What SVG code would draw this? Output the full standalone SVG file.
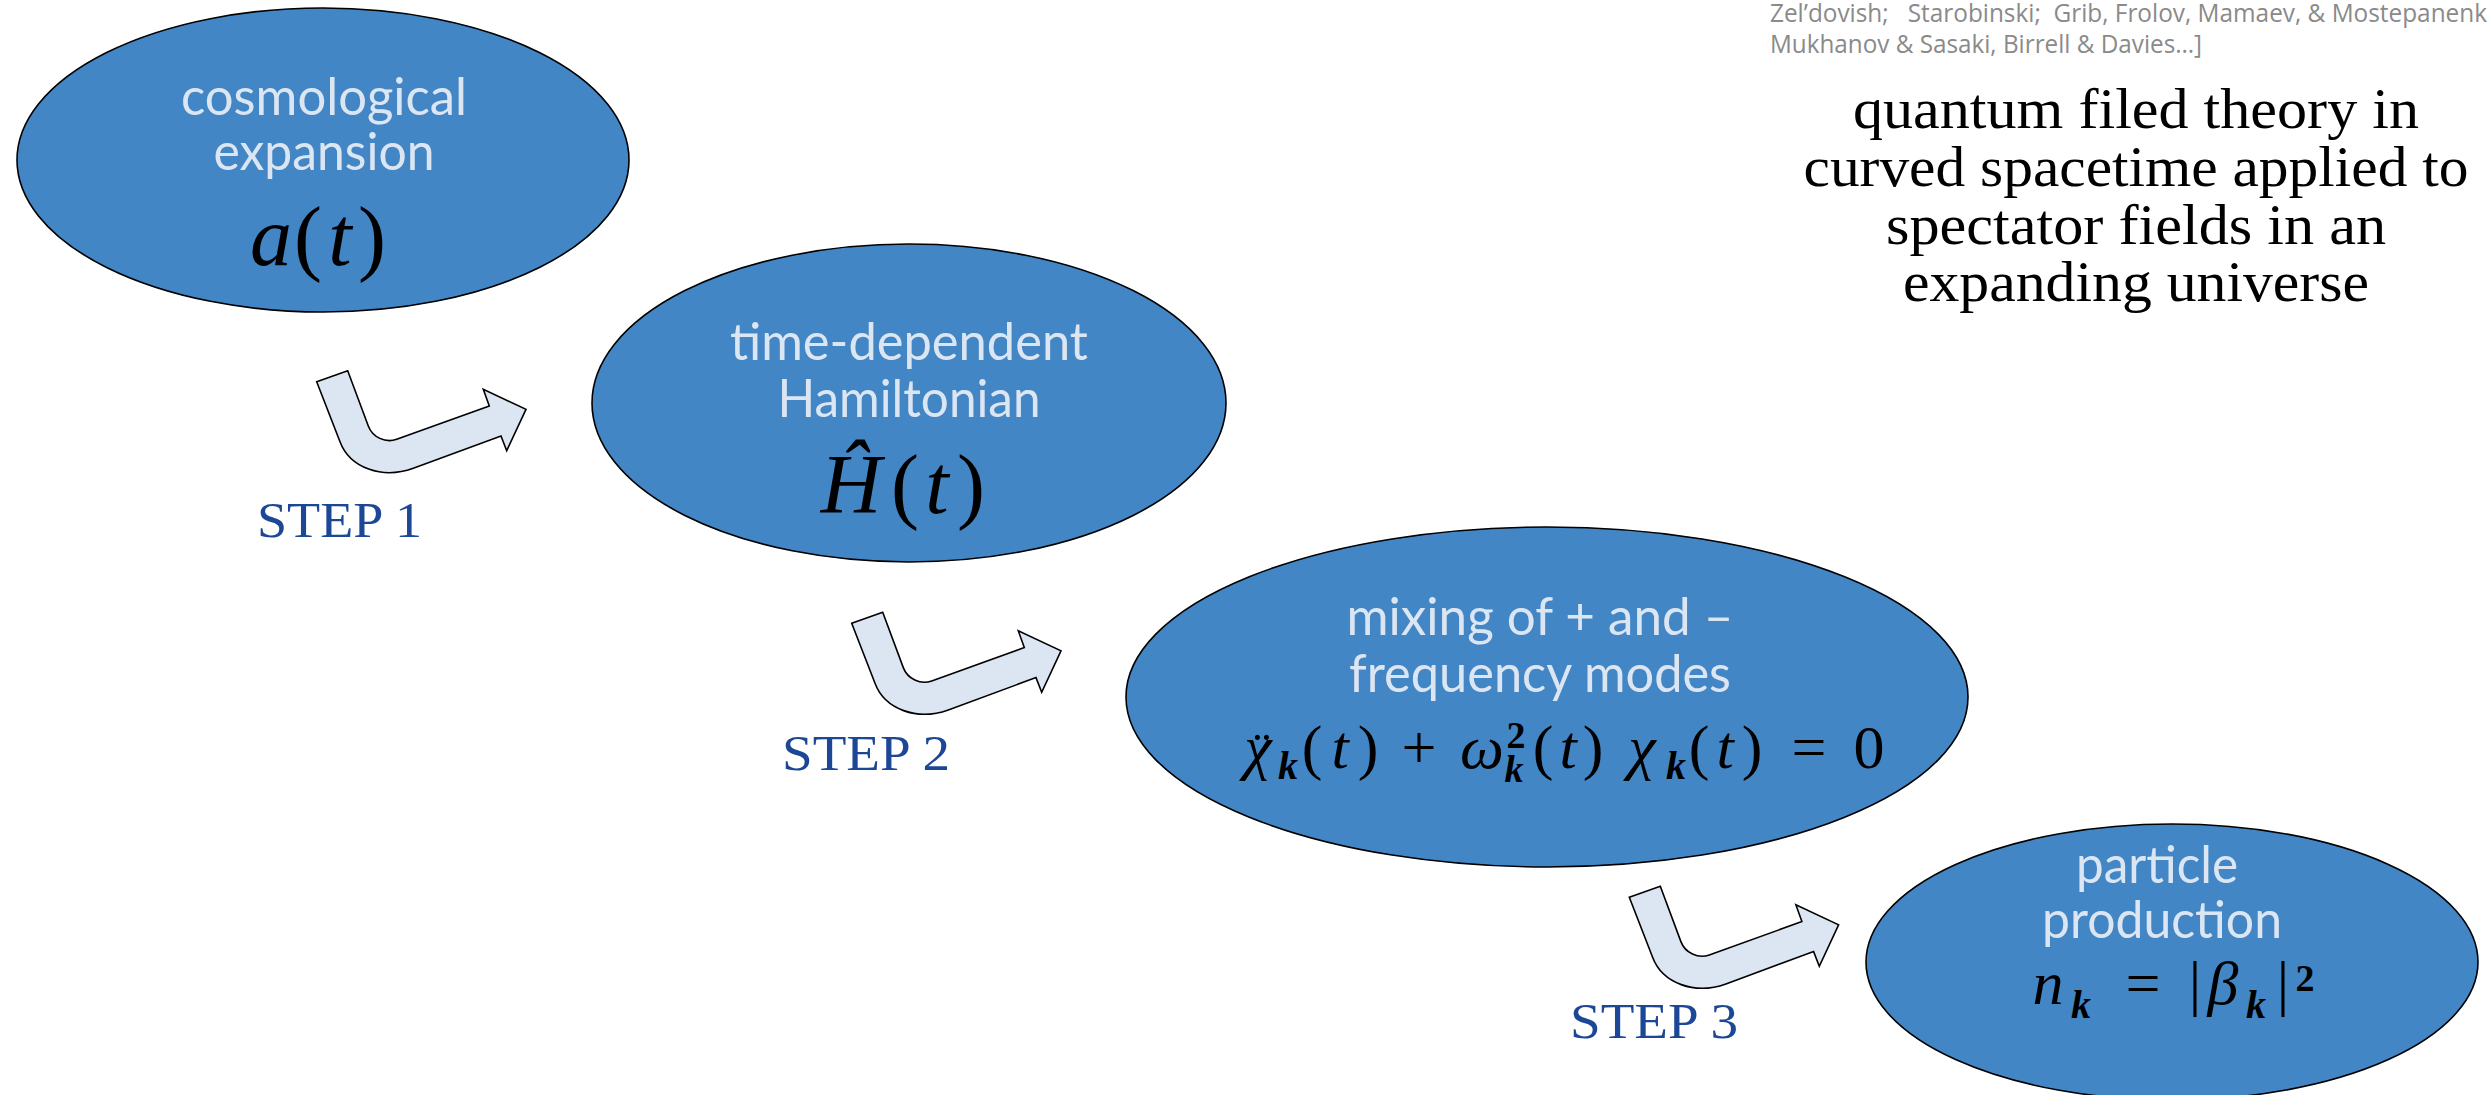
<svg xmlns="http://www.w3.org/2000/svg" width="2487" height="1095" viewBox="0 0 2487 1095">
<defs>
<style>
.node ellipse { fill:#4386c6; stroke:#000; stroke-width:1.6; }
.lbl { font-family: Lato, "Open Sans", sans-serif; font-size:52px; fill:#dce6f2; text-anchor:middle; }
.m { font-family: "Liberation Serif", serif; fill:#000; text-anchor:middle; }
.i { font-style: italic; }
.b { font-weight: bold; font-style: italic; }
.arrow { fill:#dce6f2; stroke:#000; stroke-width:1.6; }
.step { font-family:"Liberation Serif", serif; font-size:50px; fill:#1b4796; }
.ref { font-family:"Open Sans", sans-serif; font-size:25px; fill:#8a8a8a; white-space:pre; }
.title { font-family:"Liberation Serif", serif; font-size:57px; fill:#000; text-anchor:middle; }
</style>
<path id="bent" d="M0,0 L31,-11 L51.6,44.3 C55.8,55.5 68.7,61.7 80,57.6 L172.6,24.3 L166.6,7.6 L209.3,27.6 L190,69 L184.3,54.3 L96.6,86.6 C65.5,97.8 33.1,86.2 23.3,60 Z"/>
</defs>
<rect width="2487" height="1095" fill="#fff"/>

<g id="node-cosmological-expansion" class="node">
<ellipse cx="323" cy="160" rx="306" ry="152"/>
<text class="lbl" x="324" y="115" textLength="286" lengthAdjust="spacingAndGlyphs">cosmological</text>
<text class="lbl" x="324" y="170" textLength="221" lengthAdjust="spacingAndGlyphs">expansion</text>
<text class="m" font-size="84" y="265"><tspan class="i" x="271">a</tspan><tspan x="308">(</tspan><tspan class="i" x="340">t</tspan><tspan x="372">)</tspan></text>
</g>

<g id="node-hamiltonian" class="node">
<ellipse cx="909" cy="403" rx="317" ry="159"/>
<text class="lbl" x="909" y="360" textLength="358" lengthAdjust="spacingAndGlyphs">time-dependent</text>
<text class="lbl" x="909" y="417" textLength="263" lengthAdjust="spacingAndGlyphs">Hamiltonian</text>
<text class="m" font-size="84" y="513"><tspan class="i" x="851">Ĥ</tspan><tspan x="905">(</tspan><tspan class="i" x="937">t</tspan><tspan x="971">)</tspan></text>
</g>

<g id="node-mixing" class="node">
<ellipse cx="1547" cy="697" rx="421" ry="170"/>
<text class="lbl" x="1540" y="635" textLength="387" lengthAdjust="spacingAndGlyphs">mixing of + and –</text>
<text class="lbl" x="1540" y="692" textLength="382" lengthAdjust="spacingAndGlyphs">frequency modes</text>
<text class="m" font-size="62" y="768"><tspan class="i" x="1258">χ</tspan><tspan x="1312">(</tspan><tspan class="i" x="1340">t</tspan><tspan x="1368">)</tspan><tspan x="1419">+</tspan><tspan class="i" x="1482">ω</tspan><tspan x="1543">(</tspan><tspan class="i" x="1568">t</tspan><tspan x="1593">)</tspan><tspan class="i" x="1642">χ</tspan><tspan x="1699">(</tspan><tspan class="i" x="1725">t</tspan><tspan x="1752">)</tspan><tspan x="1809">=</tspan><tspan x="1869">0</tspan></text>
<text class="m" font-size="52" x="1262" y="768">¨</text>
<text class="m" font-size="40" y="779"><tspan class="b" x="1288">k</tspan><tspan class="b" x="1676">k</tspan></text>
<text class="m" font-size="38" y="782"><tspan class="b" x="1514">k</tspan></text>
<text class="m" font-size="38" y="748" font-weight="bold"><tspan x="1516">2</tspan></text>
</g>

<g id="node-particle-production" class="node">
<ellipse cx="2172" cy="962" rx="306" ry="138"/>
<text class="lbl" x="2157" y="883" textLength="162" lengthAdjust="spacingAndGlyphs">particle</text>
<text class="lbl" x="2162" y="938" textLength="240" lengthAdjust="spacingAndGlyphs">production</text>
<text class="m" font-size="62" y="1004"><tspan class="i" x="2048">n</tspan><tspan x="2143">=</tspan><tspan x="2195">|</tspan><tspan class="i" x="2223">β</tspan><tspan x="2283">|</tspan></text>
<text class="m" font-size="40" y="1018"><tspan class="b" x="2081">k</tspan><tspan class="b" x="2256">k</tspan></text>
<text class="m" font-size="38" y="991" font-weight="bold"><tspan x="2305">2</tspan></text>
</g>

<g id="connectors">
<g id="step1">
<use href="#bent" class="arrow" transform="translate(316.7,381.7)"/>
<text class="step" x="257" y="537" textLength="165" lengthAdjust="spacingAndGlyphs">STEP 1</text>
</g>
<g id="step2">
<use href="#bent" class="arrow" transform="translate(851.7,623.3)"/>
<text class="step" x="782" y="770" textLength="168" lengthAdjust="spacingAndGlyphs">STEP 2</text>
</g>
<g id="step3">
<use href="#bent" class="arrow" transform="translate(1629.3,897.3)"/>
<text class="step" x="1570" y="1038" textLength="168" lengthAdjust="spacingAndGlyphs">STEP 3</text>
</g>
</g>

<g id="annotation">
<text class="ref" x="1770" y="22" textLength="717" lengthAdjust="spacingAndGlyphs">Zel’dovish;   Starobinski;  Grib, Frolov, Mamaev, &amp; Mostepanenk</text>
<text class="ref" x="1770" y="53" textLength="432" lengthAdjust="spacingAndGlyphs">Mukhanov &amp; Sasaki, Birrell &amp; Davies…]</text>
<text class="title" x="2136" y="128" textLength="566" lengthAdjust="spacingAndGlyphs">quantum filed theory in</text>
<text class="title" x="2136" y="186" textLength="665" lengthAdjust="spacingAndGlyphs">curved spacetime applied to</text>
<text class="title" x="2136" y="244" textLength="500" lengthAdjust="spacingAndGlyphs">spectator fields in an</text>
<text class="title" x="2136" y="301" textLength="466" lengthAdjust="spacingAndGlyphs">expanding universe</text>
</g>
</svg>
